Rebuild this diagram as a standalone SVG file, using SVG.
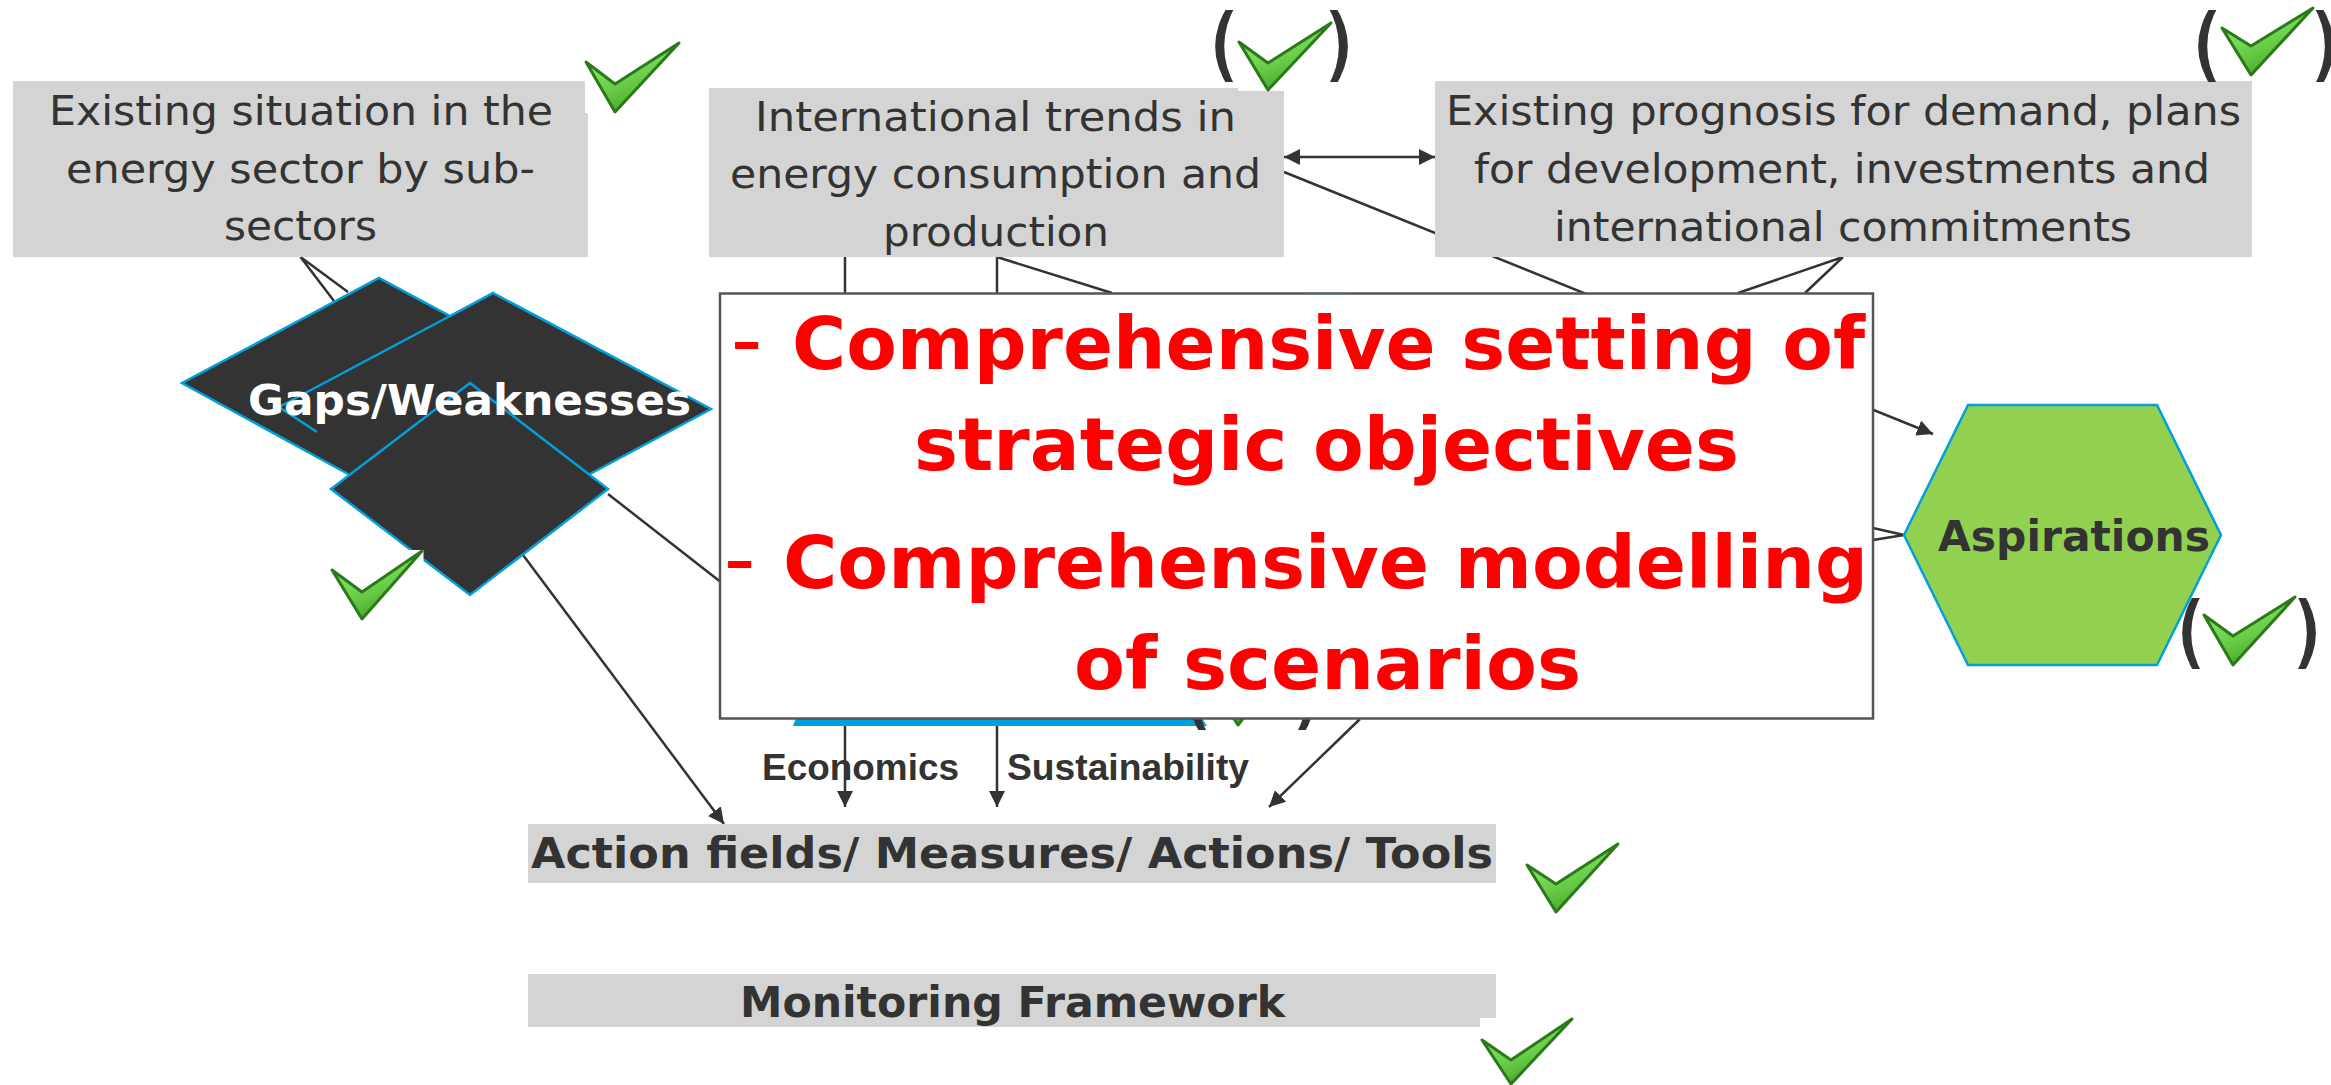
<svg xmlns="http://www.w3.org/2000/svg" width="2331" height="1085" viewBox="0 0 2331 1085">
<style>
text{font-family:"DejaVu Sans","Liberation Sans",sans-serif;fill:#333}
.box{fill:#d4d4d4}
.t{font-size:41px}
.b{font-size:43px;font-weight:700}
.m{font-size:73px;font-weight:700;fill:#f00}
.dash{font-size:88px;font-weight:400}
.a{font-family:"Liberation Sans",Arial,sans-serif;font-size:36px;font-weight:700}
.d{fill:#333;stroke:#00a0dc;stroke-width:2.5}
.p{font-size:95px}
.ck{fill:url(#g);stroke:#2a7a1a;stroke-width:3;stroke-linejoin:round}
.w{fill:#fff}
#connectors path{fill:none;stroke:#333;stroke-width:2.5}
</style>
<defs>
<linearGradient id="g" x1="0.15" y1="0.1" x2="0.6" y2="1"><stop offset="0" stop-color="#90f070"/><stop offset="0.6" stop-color="#66c944"/><stop offset="1" stop-color="#3f9f28"/></linearGradient>
<marker id="ah" markerWidth="16" markerHeight="16" refX="16" refY="8" orient="auto-start-reverse" markerUnits="userSpaceOnUse"><path d="M0 0L16 8L0 16Z" fill="#333"/></marker>
<clipPath id="c2"><rect x="1200" y="10" width="160" height="72"/></clipPath>
<clipPath id="c3"><rect x="2190" y="10" width="141" height="72"/></clipPath>
<clipPath id="c4"><rect x="2170" y="598" width="160" height="71"/></clipPath>
<clipPath id="c8"><rect x="1170" y="690" width="160" height="40"/></clipPath>
</defs>
<rect width="2331" height="1085" fill="#fff"/>
<g id="connectors">
<path d="M300.500 257L334 301M300.500 257L348 292"/>
<path d="M845 257V807" marker-end="url(#ah)"/>
<path d="M997 257V807" marker-end="url(#ah)"/>
<path d="M997 257L1112 293"/>
<path d="M1284 172L1933 434" marker-end="url(#ah)"/>
<path d="M1843 257L1738 293M1843 257L1805 293"/>
<path d="M1284 157H1435" marker-start="url(#ah)" marker-end="url(#ah)"/>
<path d="M1873 528L1904 535L1873 540"/>
<path d="M608 494L722 583"/>
<path d="M523 555L724 824" marker-end="url(#ah)"/>
<path d="M1360 719L1269 807" marker-end="url(#ah)"/>
</g>
<g id="box-existing"><path class="box" d="M13 81H585V113H588V257H13Z"/>
<text class="t" x="49" y="125" textLength="504" lengthAdjust="spacingAndGlyphs">Existing situation in the</text>
<text class="t" x="66" y="183" textLength="469" lengthAdjust="spacingAndGlyphs">energy sector by sub-</text>
<text class="t" x="224" y="240" textLength="153" lengthAdjust="spacingAndGlyphs">sectors</text></g>
<g id="box-trends"><path class="box" d="M709 88H1238V91H1284V257H709Z"/>
<text class="t" x="755" y="131" textLength="481" lengthAdjust="spacingAndGlyphs">International trends in</text>
<text class="t" x="730" y="188" textLength="531" lengthAdjust="spacingAndGlyphs">energy consumption and</text>
<text class="t" x="883" y="246" textLength="226" lengthAdjust="spacingAndGlyphs">production</text></g>
<g id="box-prognosis"><rect class="box" x="1435" y="81" width="817" height="176"/>
<text class="t" x="1446" y="125" textLength="795" lengthAdjust="spacingAndGlyphs">Existing prognosis for demand, plans</text>
<text class="t" x="1474" y="183" textLength="736" lengthAdjust="spacingAndGlyphs">for development, investments and</text>
<text class="t" x="1554" y="241" textLength="578" lengthAdjust="spacingAndGlyphs">international commitments</text></g>
<g id="gaps">
<path fill="#333" d="M182 383L379 278L450 316L493 293L711 409L590 474L470 540L348 474Z"/>
<path fill="none" stroke="#00a0dc" stroke-width="2.500" d="M348 474L182 383L379 278L450 316L493 293L711 409L590 474"/>
<path fill="none" stroke="#00a0dc" stroke-width="2.500" d="M450 316L279 407L317 432"/>
<polygon class="d" points="470,383 608,489 470,595 331,489"/>
<rect class="w" x="325" y="550" width="98.500" height="72"/>
<text class="b" x="248" y="415" textLength="443" lengthAdjust="spacingAndGlyphs" style="fill:#fff">Gaps/Weaknesses</text>
</g>
<g id="blue-shape"><polygon points="797,715 1200,715 1207,726 793,726" fill="#00a0dc"/></g>
<g id="check-behind">
<text class="p" x="1180" y="724" clip-path="url(#c8)">(</text>
<text class="p" x="1287" y="724" clip-path="url(#c8)">)</text>
<polygon class="ck" points="1215,690 1238,706 1265,690 1238,725"/>
</g>
<g id="main-box"><rect x="720" y="293.500" width="1153" height="425" fill="#fff" stroke="#555" stroke-width="2.500"/>
<path d="M1305 293.500H1349" stroke="#00a0dc" stroke-width="1.500" opacity="0.4"/>
<text class="m" y="369"><tspan class="dash" style="fill:#f00" x="730.700">-</tspan> <tspan x="792" textLength="1073" lengthAdjust="spacingAndGlyphs">Comprehensive setting of</tspan></text>
<text class="m" x="914" y="470" textLength="825" lengthAdjust="spacingAndGlyphs">strategic objectives</text>
<text class="m" y="588"><tspan class="dash" style="fill:#f00" x="723.700">-</tspan> <tspan x="783" textLength="1085" lengthAdjust="spacingAndGlyphs">Comprehensive modelling</tspan></text>
<text class="m" x="1074" y="689" textLength="507" lengthAdjust="spacingAndGlyphs">of scenarios</text></g>
<g id="aspirations"><polygon points="1904,535 1968,405 2157,405 2221,535 2157,665 1968,665" fill="#92d050" stroke="#00a0dc" stroke-width="2.500"/>
<text class="b" x="1938" y="551" textLength="272" lengthAdjust="spacingAndGlyphs">Aspirations</text></g>
<g id="labels"><text class="a" x="762" y="780" textLength="197" lengthAdjust="spacingAndGlyphs">Economics</text>
<text class="a" x="1007" y="780" textLength="242" lengthAdjust="spacingAndGlyphs">Sustainability</text></g>
<g id="action"><rect class="box" x="528" y="824" width="968" height="59"/>
<text class="b" x="531" y="868" textLength="962" lengthAdjust="spacingAndGlyphs">Action fields/ Measures/ Actions/ Tools</text></g>
<g id="monitoring"><path class="box" d="M528 974H1496V1018H1480V1027H528Z"/>
<text class="b" x="740" y="1017" textLength="545" lengthAdjust="spacingAndGlyphs">Monitoring Framework</text></g>
<g id="check-1"><polygon class="ck" points="586,62 615,84 679,43 615,112"/></g>
<g id="check-2"><text class="p" x="1207" y="76" clip-path="url(#c2)">(</text><text class="p" x="1319" y="76" clip-path="url(#c2)">)</text><polygon class="ck" points="1239,42 1268,63 1331,23 1268,90"/></g>
<g id="check-3"><text class="p" x="2190" y="76" clip-path="url(#c3)">(</text><text class="p" x="2305" y="76" clip-path="url(#c3)">)</text><polygon class="ck" points="2222,28 2251,46 2313,8 2251,75"/></g>
<g id="check-4"><text class="p" x="2174" y="663" clip-path="url(#c4)">(</text><text class="p" x="2287" y="663" clip-path="url(#c4)">)</text><polygon class="ck" points="2204,615 2233,636 2295,597 2233,665"/></g>
<g id="check-5"><polygon class="ck" points="332,570 362,592 422,551 362,619"/></g>
<g id="check-6"><polygon class="ck" points="1527,865 1556,884 1618,844 1556,912"/></g>
<g id="check-7"><polygon class="ck" points="1482,1040 1511,1060 1572,1019 1511,1084"/></g>
</svg>
